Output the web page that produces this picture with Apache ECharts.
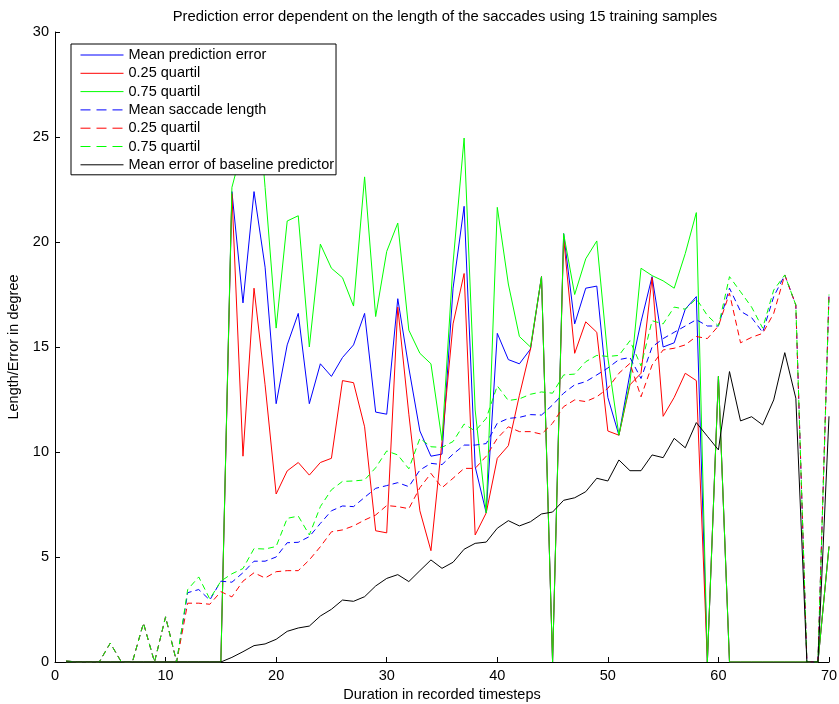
<!DOCTYPE html>
<html>
<head>
<meta charset="utf-8">
<script src="https://cdn.jsdelivr.net/npm/echarts@6/dist/echarts.min.js"></script>
<style>
html,body{margin:0;padding:0;background:#fff;}
#chart{width:839px;height:704px;}
</style>
</head>
<body>
<div id="chart"></div>
<script>
const steps = [1,2,3,4,5,6,7,8,9,10,11,12,13,14,15,16,17,18,19,20,21,22,23,24,25,26,27,28,29,30,31,32,33,34,35,36,37,38,39,40,41,42,43,44,45,46,47,48,49,50,51,52,53,54,55,56,57,58,59,60,61,62,63,64,65,66,67,68,69,70];

const meanErr = [0,0,0,0,0,0,0,0,0,0,0,0,0,0,0,
  22.4,17.1,22.4,18.8,12.3,15.1,16.6,12.3,14.2,13.6,14.5,15.1,16.6,11.9,11.8,
  17.3,14.0,11.0,9.8,9.9,17.8,21.7,9.3,7.1,15.65,14.4,14.2,14.9,18.35,0,
  20.4,16.1,17.8,17.9,12.6,10.8,13.75,16.2,18.35,15.0,15.2,16.8,17.4,0,13.6,
  0,0,0,0,0,0,0,0,0,5.5];

const q25Err = [0,0,0,0,0,0,0,0,0,0,0,0,0,0,0,
  22.3,9.8,17.8,13.2,8.0,9.1,9.5,8.9,9.5,9.7,13.4,13.3,11.2,6.25,6.15,
  16.9,11.8,7.2,5.3,10.5,16.1,18.5,6.05,7.1,9.7,10.3,12.7,14.9,18.35,0,
  20.2,14.7,16.2,15.7,11.0,10.8,13.2,13.75,18.3,11.7,12.6,13.75,13.4,0,13.6,
  0,0,0,0,0,0,0,0,0,5.5];

const q75Err = [0,0,0,0,0,0,0,0,0,0,0,0,0,0,0,
  22.6,24.6,29.0,22.6,15.9,21.0,21.25,15.0,19.9,18.75,18.3,16.95,23.1,16.45,19.55,
  20.9,15.8,14.7,14.2,10.55,19.0,24.95,12.0,7.1,21.65,18.0,15.5,15.0,18.35,0,
  20.4,17.5,19.2,20.05,14.5,10.8,13.3,18.75,18.4,18.15,17.8,19.45,21.4,0,13.6,
  0,0,0,0,0,0,0,0,0,5.5];

const meanLen = [0.05,0,0,0,0.9,0,0,1.85,0,2.15,0,
  3.3,3.45,2.95,3.85,3.8,4.25,4.8,4.8,5.0,
  5.68,5.7,5.97,6.6,7.2,7.43,7.4,7.84,8.27,8.4,
  8.54,8.35,9.14,9.46,9.4,9.9,10.33,10.33,10.4,11.37,
  11.6,11.65,11.78,11.76,12.24,12.8,13.2,13.35,13.67,14.0,
  14.4,14.5,13.5,15.0,15.4,15.7,16.0,16.3,16.0,16.0,
  17.8,16.7,16.4,15.7,17.4,18.43,17.0,0,0,17.5];

const q25Len = [0.05,0,0,0,0.9,0,0,1.85,0,2.15,0,
  2.8,2.8,2.75,3.35,3.1,3.85,4.25,4.0,4.3,
  4.35,4.35,4.86,5.49,6.2,6.29,6.48,6.76,7.0,7.45,
  7.4,7.3,8.3,8.98,8.3,8.75,9.22,9.22,9.8,10.65,
  11.2,10.97,10.97,10.85,11.37,12.16,12.48,12.4,12.63,13.03,
  13.75,14.22,12.63,14.14,14.86,14.94,15.1,15.5,15.4,16.0,
  17.56,15.2,15.46,15.65,16.6,18.43,17.0,0,0,17.5];

const q75Len = [0.05,0,0,0,0.9,0,0,1.85,0,2.15,0,
  3.45,4.05,3.0,3.85,4.2,4.45,5.4,5.38,5.5,
  6.84,6.95,6.05,7.4,8.2,8.6,8.62,8.67,9.25,10.05,
  9.86,9.2,10.65,10.25,10.22,10.5,11.33,11.0,11.6,13.15,
  12.45,12.53,12.75,12.86,12.8,13.67,13.71,14.3,14.6,14.55,
  14.6,15.3,14.1,16.25,16.1,16.9,16.8,17.3,16.5,16.0,
  18.35,17.63,16.9,15.9,17.71,18.43,17.0,0,0,17.5];

const baseErr = [0,0,0,0,0,0,0,0,0,0,0,0,0,0,0,
  0.22,0.49,0.78,0.86,1.08,1.46,1.62,1.71,2.19,2.51,2.95,2.89,3.11,3.62,3.98,
  4.16,3.83,4.35,4.86,4.46,4.75,5.37,5.65,5.71,6.37,6.73,6.48,6.68,7.05,7.14,
  7.7,7.82,8.11,8.75,8.62,9.62,9.11,9.11,9.86,9.73,10.65,10.2,11.4,10.75,10.1,
  13.83,11.48,11.68,11.29,12.48,14.73,12.56,0,0,11.7];

const seriesNames = ['Mean prediction error','0.25 quartil','0.75 quartil','Mean saccade length','0.25 quartil ','0.75 quartil ','Mean error of baseline predictor'];
const seriesData = [meanErr,q25Err,q75Err,meanLen,q25Len,q75Len,baseErr];
const seriesColors = ['#0000ff','#ff0000','#00ff00','#0000ff','#ff0000','#00ff00','#000000'];
const seriesDashed = [false,false,false,true,true,true,false];

const FONT = "'Liberation Sans', Arial, Helvetica, sans-serif";
const FS = 14.5;
const chart = echarts.init(document.getElementById('chart'), null, {renderer:'canvas'});

const series = seriesNames.map((name, i) => ({
  name: name,
  type: 'line',
  data: steps.map((x, j) => [x, seriesData[i][j]]),
  symbol: 'none',
  showSymbol: false,
  silent: true,
  emphasis: {disabled: true},
  itemStyle: {color: seriesColors[i]},
  lineStyle: {color: seriesColors[i], width: 1, type: seriesDashed[i] ? [6,4] : 'solid'}
}));

const legendData = seriesNames.map((name, i) => ({
  name: name,
  lineStyle: {color: seriesColors[i], width: 1, type: seriesDashed[i] ? [10,6] : 'solid'}
}));

const option = {
  animation: false,
  backgroundColor: '#fff',
  title: {
    text: 'Prediction error dependent on the length of the saccades using 15 training samples',
    left: 445, top: 9, padding: 0, textAlign: 'center',
    textStyle: {fontFamily: FONT, fontSize: 14.8, fontWeight: 'normal', color: '#000'}
  },
  grid: {left: 55, right: 10, top: 32, bottom: 42, containLabel: false, outerBoundsMode: 'none'},
  legend: {
    orient: 'vertical',
    left: 71, top: 44,
    padding: [3, 2, 2, 9],
    itemWidth: 43, itemHeight: 16, itemGap: 2.3,
    backgroundColor: '#fff',
    borderColor: '#000', borderWidth: 1,
    selectedMode: false,
    itemStyle: {color: 'rgba(0,0,0,0)', borderColor: 'rgba(0,0,0,0)', borderWidth: 0},
    textStyle: {fontFamily: FONT, fontSize: FS, color: '#000', lineHeight: 16},
    data: legendData
  },
  xAxis: {
    type: 'value', min: 0, max: 70, interval: 10,
    name: 'Duration in recorded timesteps', nameLocation: 'middle', nameGap: 24,
    nameTextStyle: {fontFamily: FONT, fontSize: FS, color: '#000'},
    axisLine: {show: true, lineStyle: {color: '#000', width: 1}},
    axisTick: {show: true, inside: true, length: 5, lineStyle: {color: '#000'}},
    axisLabel: {fontFamily: FONT, fontSize: FS, color: '#000', margin: 6},
    splitLine: {show: false}
  },
  yAxis: {
    type: 'value', min: 0, max: 30, interval: 5,
    name: 'Length/Error in degree', nameLocation: 'middle', nameGap: 30, nameRotate: 90,
    nameTextStyle: {fontFamily: FONT, fontSize: FS, color: '#000'},
    axisLine: {show: true, lineStyle: {color: '#000', width: 1}},
    axisTick: {show: true, inside: true, length: 5, lineStyle: {color: '#000'}},
    axisLabel: {fontFamily: FONT, fontSize: FS, color: '#000', margin: 6},
    splitLine: {show: false}
  },
  series: series
};
chart.setOption(option);
</script>
</body>
</html>
